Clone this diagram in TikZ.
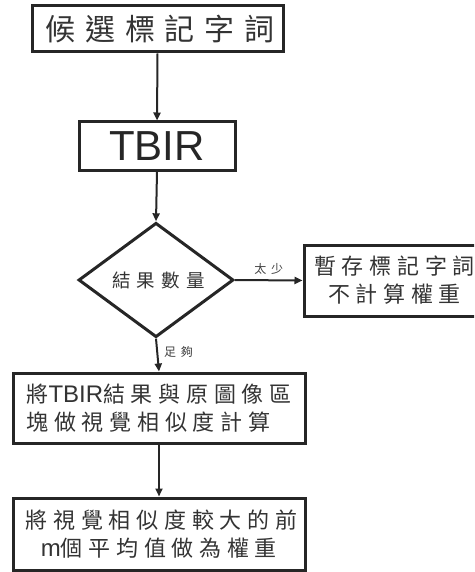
\documentclass[tikz,border=0pt]{standalone}
\usepackage{fontspec}
\usetikzlibrary{shapes.geometric,arrows.meta}
\setmainfont{Liberation Sans}
\newfontfamily\cjk{Noto Sans CJK TC}
\newfontfamily\cjkA[LetterSpace=33]{Noto Sans CJK TC}
\newfontfamily\cjkB[LetterSpace=26]{Noto Sans CJK TC}
\newfontfamily\cjkC[LetterSpace=40]{Noto Sans CJK TC}
\newcommand{\lat}{\fontspec{Liberation Sans}}
\begin{document}
\begin{tikzpicture}[x=1pt,y=-1pt,
  box/.style={draw=black!85,line width=3pt,inner sep=0pt,rectangle},
  conn/.style={draw=black!85,line width=2pt,-{Triangle[length=8pt,width=7pt]}},
  lbl/.style={font=\cjkC\fontsize{12}{14}\selectfont,text=black!75,inner sep=0pt}]
\useasboundingbox (0,0) rectangle (474,572);
\clip (0,0) rectangle (474,572);
\node[box,minimum width=251pt,minimum height=46pt,font=\cjkA\fontsize{30}{32}\selectfont,text=black!80] (cand) at (157.5,29) {\hspace*{5pt}候選標記字詞};
\node[box,minimum width=156pt,minimum height=48pt,font=\fontsize{42}{44}\selectfont,text=black!85] (tbir) at (157,146) {TBIR};
\node[box,diamond,minimum width=155pt,minimum height=75pt,font=\cjkA\fontsize{18.5}{20}\selectfont,text=black!80] (qty) at (156,280) {\hspace*{5pt}結果數量};
\node[box,minimum width=176pt,minimum height=71pt,align=center,font=\cjkB\fontsize{22}{28}\selectfont,text=black!80] (temp) at (392,280.5) {\hspace*{5pt}暫存標記字詞\\\hspace*{5pt}不計算權重};
\node[box,minimum width=292pt,minimum height=70pt,align=left,font=\cjkB\fontsize{22}{28}\selectfont,text=black!80] (visual) at (159,408) {將{\lat\fontsize{24}{28}\selectfont TBIR}結果與原圖像區\\塊做視覺相似度計算};
\node[box,minimum width=292pt,minimum height=72pt,align=center,font=\cjkB\fontsize{22}{28}\selectfont,text=black!80] (weight) at (159,534) {\hspace*{5pt}將視覺相似度較大的前\\{\lat\fontsize{24}{28}\selectfont m}個平均值做為權重};
\draw[conn] (cand.south) -- (tbir.north);
\draw[conn] (tbir.south) -- (qty.north);
\draw[conn] (qty.east) -- node[lbl,above=5pt] {太少} (temp.west);
\draw[conn] (qty.south) -- node[lbl,right=6pt,pos=0.4] {足夠} (visual.north);
\draw[conn] (visual.south) -- (weight.north);
\end{tikzpicture}
\end{document}
